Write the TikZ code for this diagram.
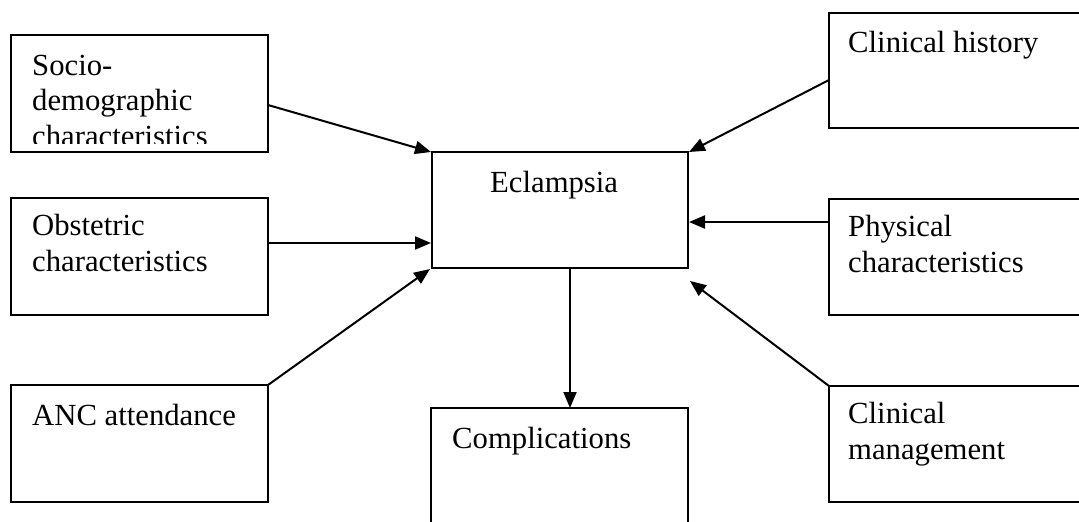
\documentclass[tikz,border=0pt]{standalone}
\usepackage{fontspec}
\setmainfont{Liberation Serif}
\usetikzlibrary{arrows.meta}
\begin{document}
\begin{tikzpicture}[x=1pt,y=-1pt,
  boxline/.style={line width=2pt},
  lbl/.style={anchor=base west,inner sep=0pt,align=left,font=\fontsize{30.7}{35.5}\selectfont},
  conn/.style={line width=2pt,-{Triangle[length=16pt,width=13pt]}}]
\useasboundingbox (0,0) rectangle (1079,522);
\clip (0,0) rectangle (1079,522);
% boxes
\draw[boxline] (11,35) rectangle (268,152);
\coordinate (soc) at (268,105);
\draw[boxline] (11,198) rectangle (268,315);
\coordinate (obs) at (268,243);
\draw[boxline] (11,385) rectangle (268,502);
\coordinate (anc) at (268,385);
\draw[boxline] (829,13) rectangle (1100,128);
\coordinate (his) at (829,80);
\draw[boxline] (829,199) rectangle (1100,315);
\coordinate (phy) at (829,222);
\draw[boxline] (829,386) rectangle (1100,502);
\coordinate (man) at (829,386);
\draw[boxline] (432,152) rectangle (688,268);
\coordinate (eTL) at (431,152);
\coordinate (eTR) at (689,152);
\coordinate (eL) at (431,243);
\coordinate (eR) at (689,222);
\coordinate (eBL) at (430,269);
\coordinate (eBR) at (690,281);
\coordinate (eB) at (570,268);
\draw[boxline] (431,408) rectangle (688,540);
\coordinate (comp) at (570,408);
% texts (anchor = baseline of last line)
\begin{scope}
\clip (11,35) rectangle (268,143);
\node[lbl] (tsoc) at (32,146) {Socio-\\demographic\\characteristics};
\end{scope}
\node[lbl] (tobs) at (32,271) {Obstetric\\characteristics};
\node[lbl] (tanc) at (32,425) {ANC attendance};
\node[lbl] (this) at (848,52) {Clinical history};
\node[lbl] (tphy) at (848,272) {Physical\\characteristics};
\node[lbl] (tman) at (848,459) {Clinical\\management};
\node[lbl] (tecl) at (490,192) {Eclampsia};
\node[lbl] (tcom) at (452,448) {Complications};
% connectors
\draw[conn] (soc) -- (eTL);
\draw[conn] (obs) -- (eL);
\draw[conn] (anc) -- (eBL);
\draw[conn] (his) -- (eTR);
\draw[conn] (phy) -- (eR);
\draw[conn] (man) -- (eBR);
\draw[conn] (eB) -- (comp);
\end{tikzpicture}
\end{document}
